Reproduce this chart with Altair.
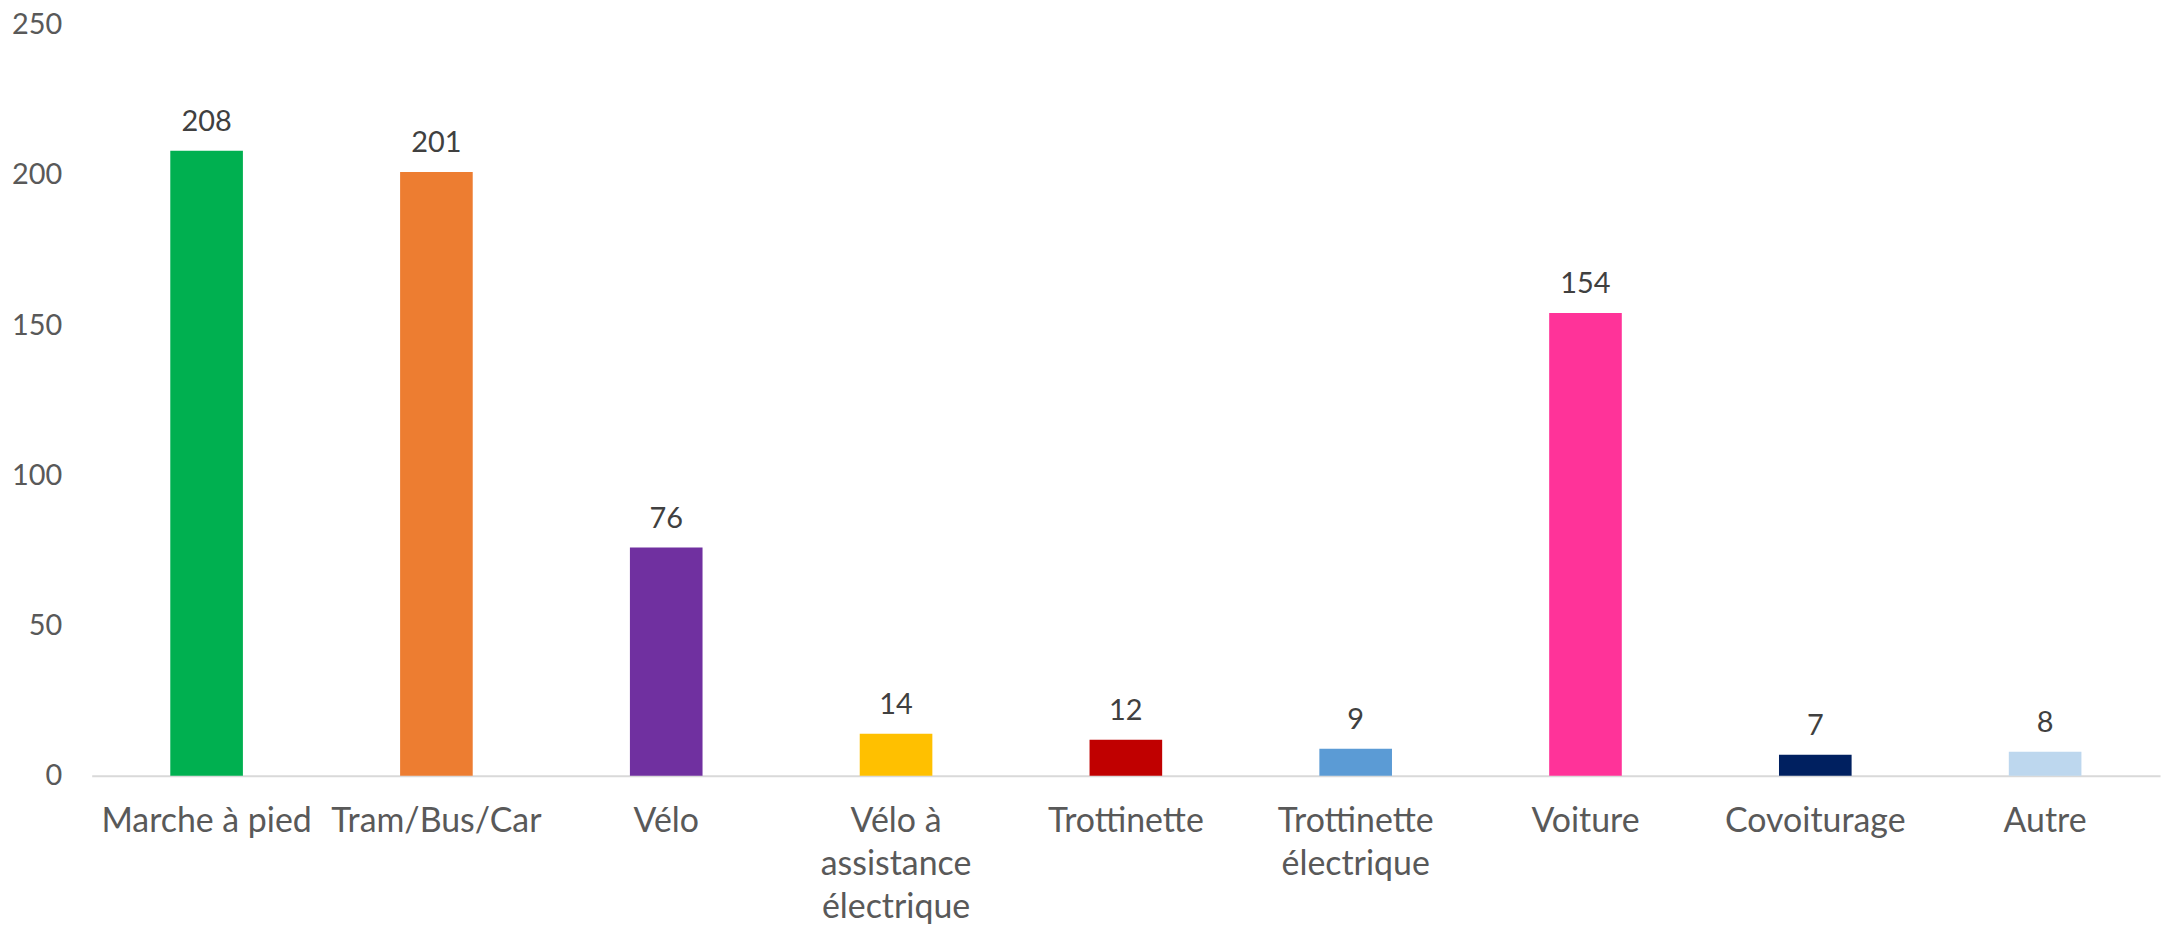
import altair as alt
import pandas as pd

categories = ["Marche à pied", "Tram/Bus/Car", "Vélo", "Vélo à\nassistance\nélectrique",
              "Trottinette", "Trottinette\nélectrique", "Voiture", "Covoiturage", "Autre"]
values = [208, 201, 76, 14, 12, 9, 154, 7, 8]
colors = ["#00B050", "#ED7D31", "#7030A0", "#FFC000", "#C00000",
          "#5B9BD5", "#FF3399", "#002060", "#BDD7EE"]
y_ticks = [0, 50, 100, 150, 200, 250]

df = pd.DataFrame({"cat": categories, "val": values, "col": colors})

FONT = "Lato"

x = alt.X("cat:N", sort=categories, title=None,
          scale=alt.Scale(paddingInner=0.684, paddingOuter=0.342),
          axis=alt.Axis(labelAngle=0, labelFont=FONT, labelFontSize=34, labelColor="#595959",
                        labelPadding=29, labelLineHeight=43, ticks=False, labelLimit=0,
                        domainColor="#D9D9D9", domainWidth=2,
                        labelExpr="split(datum.label, '\\n')", labelBaseline="top"))
y = alt.Y("val:Q", title=None,
          scale=alt.Scale(domain=[0, 250], nice=False),
          axis=alt.Axis(values=y_ticks, grid=False, domain=False, ticks=False,
                        labelFont=FONT, labelFontSize=29, labelColor="#595959",
                        labelPadding=30))

bars = alt.Chart(df).mark_bar().encode(
    x=x, y=y, color=alt.Color("col:N", scale=None)
)
labels = alt.Chart(df).mark_text(baseline="bottom", dy=-14, font=FONT, fontSize=29,
                                 color="#404040").encode(
    x=alt.X("cat:N", sort=categories), y="val:Q", text="val:Q"
)

chart = (bars + labels).properties(
    width=2076, height=754,
    autosize=alt.AutoSizeParams(type="none"),
    padding={"left": 84, "top": 15, "right": 6, "bottom": 150},
).configure_view(stroke=None)

chart.save("out.html", embed_options={"renderer": "svg", "actions": False})
